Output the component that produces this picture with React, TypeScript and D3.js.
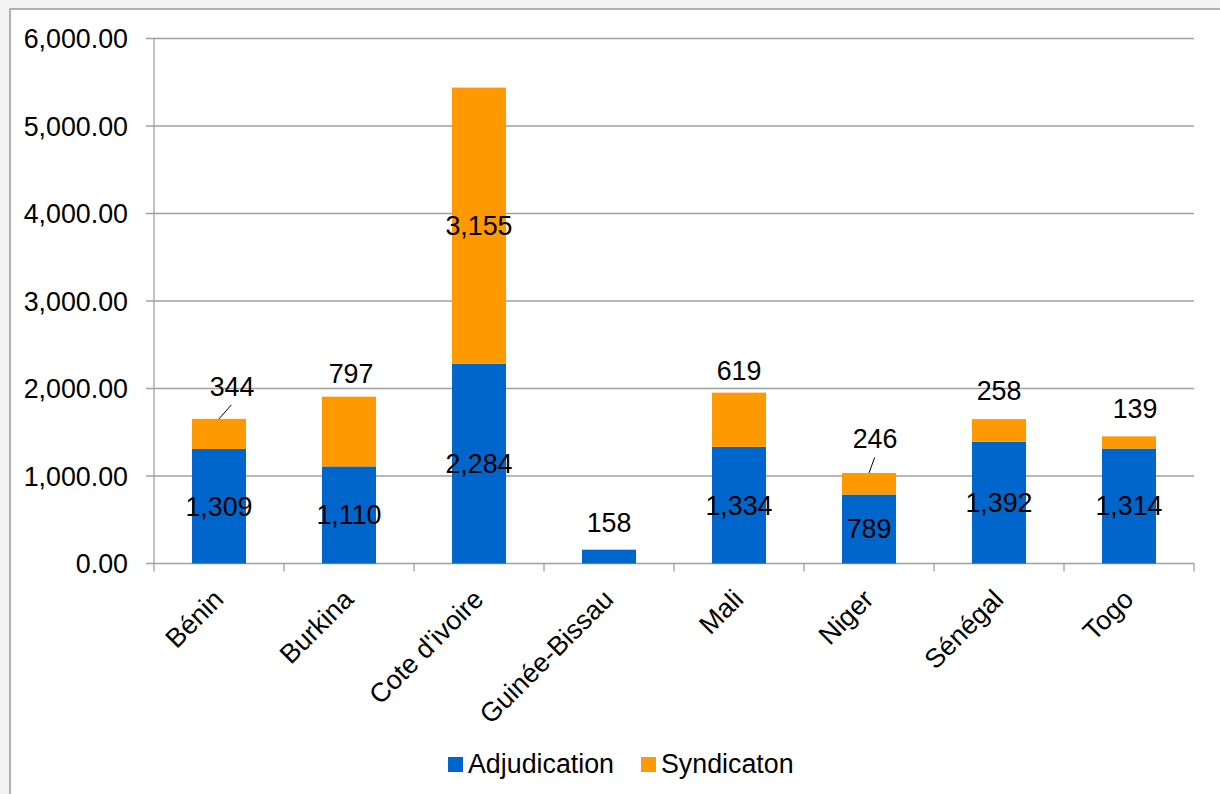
import React from "react";
import * as d3 from "d3";

const categories = ["Bénin", "Burkina", "Cote d'ivoire", "Guinée-Bissau", "Mali", "Niger", "Sénégal", "Togo"];
const adjudication = [1309, 1110, 2284, 158, 1334, 789, 1392, 1314];
const syndication = [344, 797, 3155, 0, 619, 246, 258, 139];
const yTicks = [0, 1000, 2000, 3000, 4000, 5000, 6000];
const seriesNames = ["Adjudication", "Syndicaton"];
const seriesColors = ["#0066CC", "#FF9900"];

// label placement nudges (layout only): mode, dx, gap above bar top, leader line
const labelPlacement = [
  { mode: "above", dx: 13, gap: 23, leader: true },
  { mode: "above", dx: 2, gap: 14, leader: false },
  { mode: "center", dx: 0, gap: 0, leader: false },
  { mode: "adjAbove", dx: 0, gap: 18, leader: false },
  { mode: "above", dx: 0, gap: 13, leader: false },
  { mode: "above", dx: 6, gap: 24.5, leader: true },
  { mode: "above", dx: 0, gap: 19, leader: false },
  { mode: "above", dx: 6, gap: 18.7, leader: false },
];

const W = 1220, H = 794;
const left = 154, right = 1194, top = 38.5, bottom = 563.5;
const FONT = "'Liberation Sans', Arial, sans-serif";
const FS = 26.8;

export default function App() {
  const x = d3.scaleBand<string>().domain(categories).range([left, right]).paddingInner(76 / 130).paddingOuter(38 / 130);
  const xb = d3.scaleBand<string>().domain(categories).range([left, right]);
  const y = d3.scaleLinear().domain([0, 6000]).range([bottom, top]);
  const stack = d3.stack<number>().keys(["0", "1"]).value((i, k) => (k === "0" ? adjudication[i] : syndication[i]));
  const series = stack(categories.map((_, i) => i));
  const fmt = d3.format(",");
  const fmt2 = d3.format(",.2f");
  const bw = x.bandwidth();

  return (
    <svg width={W} height={H} style={{ position: "absolute", left: 0, top: 0 }} fontFamily={FONT}>
      <rect x={0} y={0} width={W} height={H} fill="#f3f3f3" />
      <rect x={10} y={9} width={W} height={H} fill="#ffffff" stroke="#999" strokeWidth={1.5} />
      {yTicks.map((t) => (
        <g key={t}>
          <line x1={146} x2={right} y1={y(t)} y2={y(t)} stroke="#a0a0a0" strokeWidth={1.3} />
          <text x={128} y={y(t)} dy="0.36em" textAnchor="end" fontSize={FS} fill="#000">{fmt2(t)}</text>
        </g>
      ))}
      <line x1={left} x2={left} y1={top} y2={bottom} stroke="#a0a0a0" strokeWidth={1.3} />
      {[...categories.map((c) => xb(c) as number), right].map((p, i) => (
        <line key={i} x1={p} x2={p} y1={bottom} y2={bottom + 8} stroke="#a0a0a0" strokeWidth={1.3} />
      ))}
      {series.map((s, si) => (
        <g key={si} fill={seriesColors[si]}>
          {s.map((d, i) => (
            d[1] - d[0] > 0 ? (
              <rect key={i} x={x(categories[i])} width={bw} y={y(d[1])} height={y(d[0]) - y(d[1])} />
            ) : null
          ))}
        </g>
      ))}
      {categories.map((c, i) => {
        const cx = (x(c) as number) + bw / 2;
        const p = labelPlacement[i];
        const out: any[] = [];
        if (p.mode !== "adjAbove") {
          out.push(
            <text key="a" x={cx} y={(y(0) + y(adjudication[i])) / 2} dy="0.35em" textAnchor="middle" fontSize={FS}>{fmt(adjudication[i])}</text>
          );
        } else {
          out.push(
            <text key="a" x={cx + p.dx} y={y(adjudication[i]) - p.gap} textAnchor="middle" fontSize={FS}>{fmt(adjudication[i])}</text>
          );
        }
        if (syndication[i] > 0) {
          const total = adjudication[i] + syndication[i];
          if (p.mode === "center") {
            out.push(
              <text key="s" x={cx} y={(y(adjudication[i]) + y(total)) / 2} dy="0.35em" textAnchor="middle" fontSize={FS}>{fmt(syndication[i])}</text>
            );
          } else {
            const by = y(total) - p.gap;
            out.push(
              <text key="s" x={cx + p.dx} y={by} textAnchor="middle" fontSize={FS}>{fmt(syndication[i])}</text>
            );
            if (p.leader) {
              out.push(
                <line key="l" x1={cx} y1={y(total)} x2={cx + p.dx * 0.95} y2={by + 9} stroke="#000" strokeWidth={1} />
              );
            }
          }
        }
        return <g key={c}>{out}</g>;
      })}
      {categories.map((c) => {
        const cx = (x(c) as number) + bw / 2;
        return (
          <text key={c} transform={`translate(${cx + 6},${601}) rotate(-45)`} textAnchor="end" fontSize={FS}>{c}</text>
        );
      })}
      {seriesNames.map((n, i) => {
        const lx = i === 0 ? 448 : 641;
        return (
          <g key={n}>
            <rect x={lx} y={757} width={15} height={15} fill={seriesColors[i]} />
            <text x={lx + 20} y={772.5} fontSize={FS}>{n}</text>
          </g>
        );
      })}
    </svg>
  );
}
